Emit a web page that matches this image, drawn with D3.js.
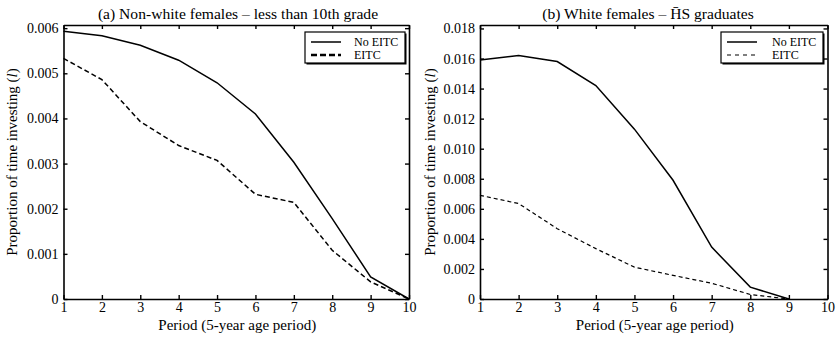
<!DOCTYPE html>
<html>
<head>
<meta charset="utf-8">
<script src="https://cdn.jsdelivr.net/npm/d3@7"></script>
<style>
  body { margin: 0; background: #fff; }
</style>
</head>
<body>
<div id="vis"></div>
<script>
// declare constants
const FRAME_WIDTH = 836
const FRAME_HEIGHT = 338
const FONT = 'Liberation Serif'

// data
const periods = [1, 2, 3, 4, 5, 6, 7, 8, 9, 10]
const aNoEitc = [0.00593, 0.00583, 0.00562, 0.00529, 0.00479, 0.00410, 0.00303, 0.00178, 0.00049, 0]
const aEitc = [0.00533, 0.00486, 0.00393, 0.00340, 0.00307, 0.00232, 0.00214, 0.00108, 0.00038, 0]
const bPeriods = [1, 2, 3, 4, 5, 6, 7, 8, 9]
const bNoEitc = [0.0159, 0.0162, 0.0158, 0.0142, 0.0113, 0.0079, 0.00345, 0.00079, 0]
const bEitc = [0.0069, 0.00635, 0.00468, 0.00335, 0.00212, 0.00157, 0.00105, 0.0003, 0]
const xTicks = [1, 2, 3, 4, 5, 6, 7, 8, 9, 10]
const aYTicks = [0, 0.001, 0.002, 0.003, 0.004, 0.005, 0.006]
const bYTicks = [0, 0.002, 0.004, 0.006, 0.008, 0.010, 0.012, 0.014, 0.016, 0.018]
const legendLabels = ["No EITC", "EITC"]

const svg = d3.select('#vis')
              .append('svg')
              .attr('width', FRAME_WIDTH)
              .attr('height', FRAME_HEIGHT)
              .attr('font-family', FONT)

function panel(opt) {
  const x = d3.scaleLinear().domain([1, 10]).range([opt.left, opt.right])
  const y = d3.scaleLinear().domain([0, opt.yMax]).range([299, opt.top])
  const g = svg.append('g').attr('font-family', FONT)

  // frame ticks on all four sides, pointing inward
  g.append('g')
    .attr('transform', 'translate(0,299)')
    .call(d3.axisBottom(x).tickValues(xTicks).tickFormat(d3.format('d')).tickSizeInner(-4).tickSizeOuter(0).tickPadding(3))
  g.append('g')
    .attr('transform', 'translate(0,' + opt.top + ')')
    .call(d3.axisTop(x).tickValues(xTicks).tickFormat('').tickSizeInner(-4).tickSizeOuter(0))
  g.append('g')
    .attr('transform', 'translate(' + opt.left + ',0)')
    .call(d3.axisLeft(y).tickValues(opt.yTicks).tickFormat(opt.fmt).tickSizeInner(-4).tickSizeOuter(0).tickPadding(5))
  g.append('g')
    .attr('transform', 'translate(' + opt.right + ',0)')
    .call(d3.axisRight(y).tickValues(opt.yTicks).tickFormat('').tickSizeInner(-4).tickSizeOuter(0))

  g.selectAll('.domain').attr('stroke', '#000').attr('stroke-width', 1.6)
  g.selectAll('.tick line').attr('stroke', '#000').attr('stroke-width', 1.4)
  g.selectAll('.tick text')
    .attr('font-family', FONT)
    .attr('font-size', '14px')
    .attr('fill', '#000')

  const line = d3.line().x((d, i) => x(opt.xs[i])).y(d => y(d))

  g.append('path')
    .datum(opt.solid)
    .attr('d', line)
    .attr('fill', 'none')
    .attr('stroke', '#000')
    .attr('stroke-width', 1.5)

  g.append('path')
    .datum(opt.dashed)
    .attr('d', line)
    .attr('fill', 'none')
    .attr('stroke', '#000')
    .attr('stroke-width', opt.dashWidth)
    .attr('stroke-dasharray', opt.dash)

  // legend
  const lg = g.append('g').attr('transform', 'translate(' + opt.legX + ',32)')
  lg.append('rect')
    .attr('x', 1.5).attr('y', 1.5)
    .attr('width', opt.legW).attr('height', 31)
    .attr('fill', '#000')
  lg.append('rect')
    .attr('width', opt.legW).attr('height', 31)
    .attr('fill', '#fff')
    .attr('stroke', '#000')
    .attr('stroke-width', 1.2)
  lg.append('line')
    .attr('x1', 6).attr('x2', 36).attr('y1', 10).attr('y2', 10)
    .attr('stroke', '#000').attr('stroke-width', 1.5)
  lg.append('line')
    .attr('x1', 6).attr('x2', 36).attr('y1', 23).attr('y2', 23)
    .attr('stroke', '#000').attr('stroke-width', opt.legDashWidth)
    .attr('stroke-dasharray', opt.legDash)
  lg.selectAll('text.leg')
    .data(legendLabels)
    .enter()
    .append('text')
      .attr('class', 'leg')
      .attr('x', opt.legW - 51)
      .attr('y', (d, i) => 13.5 + i * 13.5)
      .attr('font-size', '12px')
      .text(d => d)

  // chart title
  g.append('text')
    .attr('x', opt.titleX)
    .attr('y', 19)
    .attr('text-anchor', 'middle')
    .attr('font-size', '15.6px')
    .text(opt.title)

  // x axis label
  g.append('text')
    .attr('x', (opt.left + opt.right) / 2 + 1)
    .attr('y', 330)
    .attr('text-anchor', 'middle')
    .attr('font-size', '15px')
    .text('Period (5-year age period)')

  // y axis label
  const yl = g.append('text')
    .attr('transform', 'translate(' + opt.yLabX + ',' + 162 + ') rotate(-90)')
    .attr('text-anchor', 'middle')
    .attr('font-size', '15px')
  yl.append('tspan').text('Proportion of time investing (')
  yl.append('tspan').attr('font-style', 'italic').text('l')
  yl.append('tspan').text(')')
}

panel({
  left: 63.5, right: 409, top: 25, yMax: 0.00607,
  yTicks: aYTicks, fmt: d => d === 0 ? '0' : d3.format('.3f')(d),
  xs: periods, solid: aNoEitc, dashed: aEitc,
  dashWidth: 1.5, dash: '5,3',
  legX: 305, legW: 100, legDash: '6,3', legDashWidth: 2.6,
  title: '(a) Non-white females \u2013 less than 10th grade', titleX: 238,
  yLabX: 17
})

panel({
  left: 480, right: 827.5, top: 25, yMax: 0.01823,
  yTicks: bYTicks, fmt: d => d === 0 ? '0' : d3.format('.3f')(d),
  xs: bPeriods, solid: bNoEitc, dashed: bEitc,
  dashWidth: 1.2, dash: '4,3',
  legX: 721, legW: 102, legDash: '4,4', legDashWidth: 1.2,
  title: '(b) White females \u2013 H\u0304S graduates', titleX: 648,
  yLabX: 435
})
</script>
</body>
</html>
